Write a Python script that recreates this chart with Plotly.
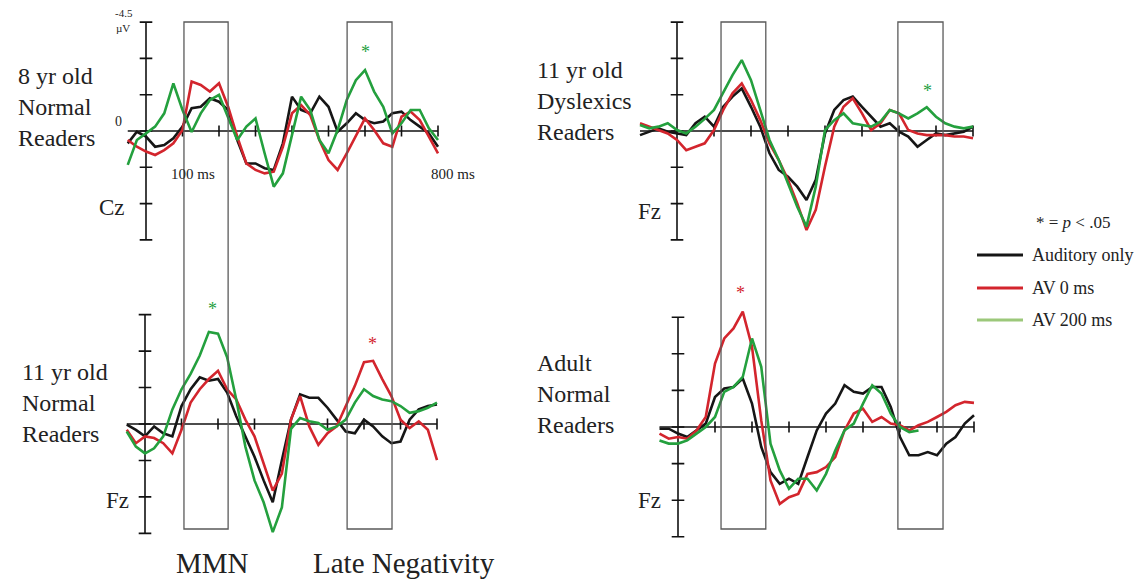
import plotly.graph_objects as go

# page body has an 8 px margin: the figure is drawn from (8, 8)
OFF = 8
W, H = 1148 - OFF, 584 - OFF

# ---------------- data ----------------
series_names = ["Auditory only", "AV 0 ms", "AV 200 ms"]
series_colors = ["#161616", "#d3252d", "#24a03e"]
legend_colors = ["#161616", "#d3252d", "#9cc87a"]

time_a = list(range(-50, 801, 25))    # ms, panels 1, 3, 4
time_b = list(range(-100, 801, 25))   # ms, panel 2

y_ticks = [-4.5, -3.0, -1.5, 0.0, 1.5, 3.0, 4.5]   # µV (negative up)
x_ticks = [100, 200, 300, 400, 500, 600, 700, 800]  # ms

# Panel 1: 8 yr old Normal Readers (Cz)
p1_aud = [0.51, 0.03, 0.23, 0.65, 0.58, 0.30, -0.18, -0.94, -1.00, -1.35, -1.21, -0.87,
          0.37, 1.34, 1.34, 1.54, 1.61, 0.51, -1.42, -0.87, -0.73, -1.42, -1.00, 0.03,
          -0.32, -0.73, -0.45, -0.32, -0.39, -0.73, -0.80, -0.45, -0.18, 0.10, 0.65]
p1_av0 = [0.37, 0.65, 0.85, 0.99, 0.79, 0.51, -0.04, -2.04, -1.90, -1.63, -1.97, -1.00,
          0.23, 1.34, 1.61, 1.75, 1.68, 0.65, -0.73, -1.07, -0.66, 0.37, 1.20, 1.61,
          0.92, 0.23, -0.52, -0.04, 0.51, 0.65, -0.59, -0.80, -0.45, 0.23, 0.92]
p1_av200 = [1.40, 0.37, 0.10, -0.18, -0.73, -1.97, -0.87, 0.04, -0.73, -1.28, -1.49, -0.59,
            0.37, -0.18, -0.52, 0.92, 2.30, 1.75, 0.10, -1.42, -0.87, 0.37, 0.92, -0.04,
            -1.28, -2.10, -2.52, -1.63, -1.00, 0.10, -0.32, -0.87, -0.87, -0.11, 0.37]

# Panel 2: 11 yr old Dyslexics Readers (Fz)
p2_aud = [0.17, 0.03, -0.11, 0.03, 0.10, 0.17, -0.32, -0.59, -0.18, -1.00, -1.42, -1.76,
          -1.00, -0.18, 0.92, 1.61, 1.89, 2.30, 2.85, 2.02, 0.10, -0.87, -1.28, -1.42,
          -1.00, -0.59, -0.18, -0.32, 0.03, 0.23, 0.65, 0.37, 0.10, 0.17, 0.10, 0.03, -0.18]
p2_av0 = [-0.32, -0.18, -0.04, 0.10, 0.37, 0.79, 0.65, 0.51, -0.04, -0.87, -1.56, -1.97,
          -1.28, -0.45, 0.51, 1.20, 2.02, 2.99, 4.09, 3.26, 1.47, -0.18, -1.00, -1.35,
          -0.73, -0.04, -0.32, -0.87, -0.73, -0.04, 0.10, 0.17, 0.17, 0.17, 0.23, 0.23, 0.30]
p2_av200 = [-0.25, -0.11, -0.18, -0.32, -0.04, 0.10, -0.18, -0.50, -0.87, -1.56, -2.31, -2.93,
            -2.10, -0.87, 0.37, 1.20, 2.16, 3.13, 3.95, 2.30, -0.04, -0.45, -0.73, -0.32,
            -0.25, -0.18, -0.39, -0.87, -0.73, -0.52, -0.73, -0.98, -0.59, -0.32, -0.18, -0.11, -0.18]

# Panel 3: 11 yr old Normal Readers (Fz)
p3_aud = [0.03, 0.24, 0.51, 0.10, 0.38, 0.51, -0.74, -1.43, -1.92, -1.78, -1.85, -1.29,
          -0.32, 0.51, 1.35, 2.32, 3.22, 1.49, -0.18, -1.22, -1.08, -1.08, -0.67, -0.18,
          0.31, 0.38, -0.18, 0.10, 0.51, 0.79, 0.72, -0.18, -0.60, -0.74, -0.80]
p3_av0 = [0.24, 0.79, 0.51, 0.58, 0.79, 1.21, 0.24, -0.88, -1.43, -1.85, -2.19, -1.43,
          -1.01, -0.18, 0.51, 1.63, 2.74, 2.04, -0.18, -1.15, 0.10, 0.86, 0.38, 0.10,
          -0.74, -1.57, -2.54, -2.60, -1.85, -1.15, -0.18, 0.17, -0.11, 0.24, 1.49]
p3_av200 = [0.31, 0.93, 1.21, 1.00, 0.51, -0.60, -1.43, -2.06, -2.82, -3.79, -3.72, -2.75,
            -1.01, 0.93, 2.32, 3.22, 4.45, 3.43, 0.20, -0.25, -0.11, -0.04, 0.24, 0.10,
            -0.18, -0.88, -1.43, -1.15, -1.01, -0.94, -0.74, -0.46, -0.53, -0.67, -0.88]

# Panel 4: Adult Normal Readers (Fz)
p4_aud = [0.07, 0.07, 0.27, 0.41, 0.14, -0.14, -1.23, -1.58, -1.64, -1.99, -0.96, 0.82,
          1.85, 2.33, 2.12, 2.33, 1.23, 0.14, -0.55, -0.96, -1.71, -1.44, -1.37, -1.64,
          -1.64, -0.82, 0.41, 1.16, 1.16, 1.03, 1.16, 0.68, 0.41, -0.14, -0.48]
p4_av0 = [0.27, 0.48, 0.41, 0.48, 0.14, -0.41, -2.60, -3.63, -4.04, -4.73, -3.29, -0.27,
          2.19, 3.15, 2.88, 2.74, 1.92, 1.85, 1.64, 1.23, 0.14, -0.55, -0.75, -0.21,
          -0.41, -0.14, -0.07, 0.14, -0.07, -0.21, -0.41, -0.62, -0.89, -1.03, -0.99]
p4_av200 = [0.55, 0.68, 0.68, 0.55, 0.27, 0.00, -0.41, -1.44, -1.64, -2.05, -3.63, -2.47,
            0.68, 1.78, 2.53, 2.12, 2.12, 2.60, 1.92, 0.96, 0.14, -0.14, -0.96, -1.71,
            -1.37, -0.55, 0.00, 0.21, 0.14]

# significance markers: (panel, series index, time ms, µV)
stars = [(1, 2, 600, -3.45), (3, 2, 184, -4.9), (3, 1, 622, -3.45),
         (2, 2, 676, -1.8), (4, 1, 168, -5.65)]

# analysis windows (ms) for each column
windows_left = [(104, 225), (551, 674)]
windows_right = [(119, 240), (597, 719)]

panel_titles = ["8 yr old<br>Normal<br>Readers", "11 yr old<br>Dyslexics<br>Readers",
                "11 yr old<br>Normal<br>Readers", "Adult<br>Normal<br>Readers"]
electrodes = ["Cz", "Fz", "Fz", "Fz"]

# ---------------- layout geometry (page pixels) ----------------
panels = {
    1: dict(t=time_a, xr=(-60, 810), x0=146, xs=0.365, yr=(5.3, -4.9), z=131, ys=24.2,
            data=[p1_aud, p1_av0, p1_av200]),
    2: dict(t=time_b, xr=(-110, 810), x0=677, xs=0.37, yr=(5.3, -4.9), z=131, ys=24.2,
            data=[p2_aud, p2_av0, p2_av200]),
    3: dict(t=time_a, xr=(-60, 810), x0=145, xs=0.365, yr=(5.3, -6.2), z=424, ys=24.3,
            data=[p3_aud, p3_av0, p3_av200]),
    4: dict(t=time_a, xr=(-60, 810), x0=678, xs=0.37, yr=(5.3, -6.2), z=427, ys=24.4,
            data=[p4_aud, p4_av0, p4_av200]),
}

SERIF = "Liberation Serif"


def px(x):
    return (x - OFF) / W


def py(y):
    return 1 - (y - OFF) / H


def clamp(v):
    return min(1.0, max(0.0, v))


fig = go.Figure()
layout_axes = {}

for k, p in panels.items():
    xn = "x" if k == 1 else f"x{k}"
    yn = "y" if k == 1 else f"y{k}"
    xdom = [clamp(px(p["x0"] + p["xr"][0] * p["xs"])), clamp(px(p["x0"] + p["xr"][1] * p["xs"]))]
    ydom = [clamp(py(p["z"] + p["yr"][0] * p["ys"])), clamp(py(p["z"] + p["yr"][1] * p["ys"]))]
    xkey = "xaxis" if k == 1 else f"xaxis{k}"
    ykey = "yaxis" if k == 1 else f"yaxis{k}"
    layout_axes[xkey] = dict(domain=xdom, range=list(p["xr"]), visible=False,
                             anchor=yn, fixedrange=True)
    layout_axes[ykey] = dict(domain=ydom, range=list(p["yr"]), visible=False,
                             anchor=xn, fixedrange=True)

    t = p["t"]
    # axis lines
    fig.add_trace(go.Scatter(x=[t[0], t[-1]], y=[0, 0], mode="lines",
                             line=dict(color="#111", width=1.6), xaxis=xn, yaxis=yn,
                             hoverinfo="skip", showlegend=False))
    fig.add_trace(go.Scatter(x=[0, 0], y=[y_ticks[0], y_ticks[-1]], mode="lines",
                             line=dict(color="#111", width=1.6), xaxis=xn, yaxis=yn,
                             hoverinfo="skip", showlegend=False))
    # ticks
    fig.add_trace(go.Scatter(x=x_ticks, y=[0] * len(x_ticks), mode="markers",
                             marker=dict(symbol="line-ns", size=8,
                                         line=dict(color="#111", width=1.6)),
                             xaxis=xn, yaxis=yn, hoverinfo="skip", showlegend=False))
    fig.add_trace(go.Scatter(x=[0] * len(y_ticks), y=y_ticks, mode="markers",
                             marker=dict(symbol="line-ew", size=9,
                                         line=dict(color="#111", width=1.6)),
                             xaxis=xn, yaxis=yn, hoverinfo="skip", showlegend=False))
    # ERP curves
    for i, vals in enumerate(p["data"]):
        fig.add_trace(go.Scatter(x=t[:len(vals)], y=vals, mode="lines",
                                 name=series_names[i],
                                 line=dict(color=series_colors[i], width=2.6),
                                 xaxis=xn, yaxis=yn, showlegend=False))

fig.update_layout(**layout_axes)

# analysis window rectangles spanning both rows
shapes = []
for (a, b) in windows_left:
    shapes.append(dict(type="rect", xref="x", yref="paper", x0=a, x1=b,
                       y0=py(529), y1=py(22), line=dict(color="#5a5a5a", width=1.3)))
for (a, b) in windows_right:
    shapes.append(dict(type="rect", xref="x2", yref="paper", x0=a, x1=b,
                       y0=py(529), y1=py(22), line=dict(color="#5a5a5a", width=1.3)))

# legend (manual)
legend_y = [255, 288, 320]
for i, name in enumerate(series_names):
    shapes.append(dict(type="line", xref="paper", yref="paper", x0=px(977), x1=px(1023),
                       y0=py(legend_y[i]), y1=py(legend_y[i]),
                       line=dict(color=legend_colors[i], width=3)))

annotations = []


def txt(text, x, y, size, xanchor="center", align="center", color="#222"):
    annotations.append(dict(text=text, x=px(x), y=py(y), xref="paper", yref="paper",
                            showarrow=False, xanchor=xanchor, yanchor="middle",
                            align=align, font=dict(family=SERIF, size=size, color=color)))


for i, name in enumerate(series_names):
    txt(name, 1030, legend_y[i], 18, xanchor="left", align="left")
txt("* = <i>p</i> &lt; .05", 1073, 222, 17)

# panel titles
txt(panel_titles[0], 16, 107, 24, xanchor="left", align="left")
txt(panel_titles[1], 535, 101, 24, xanchor="left", align="left")
txt(panel_titles[2], 20, 403, 24, xanchor="left", align="left")
txt(panel_titles[3], 535, 394, 24, xanchor="left", align="left")

# electrodes
txt(electrodes[0], 112, 207, 23)
txt(electrodes[1], 649, 211, 23)
txt(electrodes[2], 117, 500, 23)
txt(electrodes[3], 649, 500, 23)

# scale annotations
txt("-4.5", 124, 13, 11)
txt("µV", 123, 28, 11)
txt("0", 118, 122, 14)
txt("100 ms", 193, 174, 15)
txt("800 ms", 453, 174, 15)

# window labels
txt("MMN", 212, 563, 29)
txt("Late Negativity", 404, 563, 29)

# significance stars
for (pn, si, tm, v) in stars:
    xn = "x" if pn == 1 else f"x{pn}"
    yn = "y" if pn == 1 else f"y{pn}"
    annotations.append(dict(text="*", x=tm, y=v, xref=xn, yref=yn, showarrow=False,
                            yshift=-4, font=dict(family=SERIF, size=18,
                                                 color=series_colors[si])))

fig.update_layout(width=W, height=H, margin=dict(l=0, r=0, t=0, b=0),
                  paper_bgcolor="white", plot_bgcolor="rgba(0,0,0,0)",
                  shapes=shapes, annotations=annotations, showlegend=False)

fig.write_html("out.html")
